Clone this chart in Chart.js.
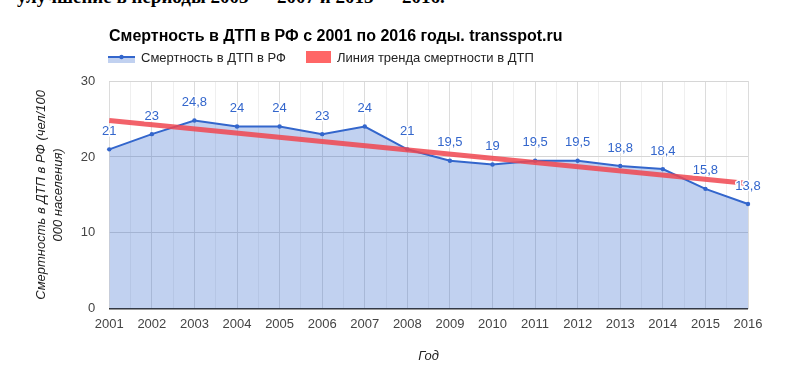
<!DOCTYPE html>
<html>
<head>
<meta charset="utf-8">
<script src="https://cdn.jsdelivr.net/npm/chart.js@4.4.1/dist/chart.umd.min.js"></script>
<style>
  body { margin: 0; background: #fff; overflow: hidden; }
  #wrap { position: relative; width: 802px; height: 371px; }
  #above { position: absolute; left: 17px; top: -12px; font: bold 19px/18px "Liberation Serif", serif; color: #000; white-space: nowrap; }
  canvas { position: absolute; left: 0; top: 0; }
</style>
</head>
<body>
<div id="wrap">
  <div id="above">улучшение в периоды 2003 — 2007 и 2013 — 2016.</div>
  <canvas id="myChart" width="802" height="371"></canvas>
</div>
<script>
const chartTitle = 'Смертность в ДТП в РФ с 2001 по 2016 годы. transspot.ru'
const years = ['2001', '2002', '2003', '2004', '2005', '2006', '2007', '2008', '2009', '2010', '2011', '2012', '2013', '2014', '2015', '2016']
const mortality = [21, 23, 24.8, 24, 24, 23, 24, 21, 19.5, 19, 19.5, 19.5, 18.8, 18.4, 15.8, 13.8]
// trend line: only the two ends, the line spans the gap
const trend = [24.8, null, null, null, null, null, null, null, null, null, null, null, null, null, null, 16.5]
const yTicks = [0, 10, 20, 30]

const font = '"Liberation Sans", Arial, sans-serif'

// title + legend drawn by hand, Google Charts style
const headerPlugin = {
  id: 'header',
  afterDraw(chart) {
    const ctx = chart.ctx
    ctx.save()
    ctx.textBaseline = 'alphabetic'
    ctx.fillStyle = '#000'
    ctx.font = 'bold 16px ' + font
    ctx.fillText(chartTitle, 109, 41)

    // legend item 1: line with area
    ctx.fillStyle = 'rgba(51,102,204,0.3)'
    ctx.fillRect(108, 57, 27, 6)
    ctx.strokeStyle = '#3366cc'
    ctx.lineWidth = 2
    ctx.beginPath(); ctx.moveTo(108, 57); ctx.lineTo(135, 57); ctx.stroke()
    ctx.fillStyle = '#3366cc'
    ctx.beginPath(); ctx.arc(121.5, 57, 2.2, 0, Math.PI * 2); ctx.fill()
    ctx.fillStyle = '#222'
    ctx.font = '13px ' + font
    ctx.fillText(chart.data.datasets[0].label, 141, 62)

    // legend item 2: box
    ctx.fillStyle = '#ff6666'
    ctx.fillRect(306, 51, 25, 12)
    ctx.fillStyle = '#222'
    ctx.fillText(chart.data.datasets[1].label, 337, 62)
    ctx.restore()
  }
}

// value labels above points
const valueLabels = {
  id: 'valueLabels',
  afterDatasetsDraw(chart) {
    const ctx = chart.ctx
    const meta = chart.getDatasetMeta(0)
    ctx.save()
    ctx.font = '13px ' + font
    ctx.textAlign = 'center'
    ctx.textBaseline = 'middle'
    ctx.lineJoin = 'round'
    meta.data.forEach((pt, i) => {
      const txt = String(mortality[i]).replace('.', ',')
      ctx.strokeStyle = '#fff'
      ctx.lineWidth = 3
      ctx.strokeText(txt, pt.x, pt.y - 18)
      ctx.fillStyle = '#3366cc'
      ctx.fillText(txt, pt.x, pt.y - 18)
    })
    ctx.restore()
  }
}

var chart = new Chart(document.getElementById('myChart'), {
  type: 'line',
  data: {
    labels: years,
    datasets: [
      {
        label: 'Смертность в ДТП в РФ',
        data: mortality,
        borderColor: '#3366cc',
        backgroundColor: 'rgba(51,102,204,0.3)',
        borderWidth: 2,
        pointRadius: 2.2,
        pointBackgroundColor: '#3366cc',
        pointBorderWidth: 0,
        fill: 'origin',
        tension: 0,
        order: 1
      },
      {
        label: 'Линия тренда смертности в ДТП',
        data: trend,
        borderColor: 'rgba(240,70,80,0.85)',
        borderWidth: 5,
        pointRadius: 0,
        spanGaps: true,
        fill: false,
        order: 0
      }
    ]
  },
  options: {
    responsive: false,
    animation: false,
    layout: { padding: { left: 33, right: 54, top: 81, bottom: 3 } },
    plugins: {
      legend: { display: false },
      title: { display: false },
      tooltip: { enabled: false }
    },
    scales: {
      x: {
        offset: false,
        grid: { display: false, drawTicks: false },
        border: { display: false },
        ticks: { color: '#444', font: { family: font, size: 13 }, maxRotation: 0, autoSkip: false, padding: 8 },
        title: { display: true, text: 'Год', color: '#222', font: { family: font, size: 13, style: 'italic' }, padding: { top: 8 } }
      },
      xg: {
        type: 'linear',
        position: 'bottom',
        min: 0,
        max: years.length - 1,
        ticks: { display: false, stepSize: 0.5 },
        grid: {
          drawTicks: false,
          color: c => (c.tick && Number.isInteger(c.tick.value)) ? '#dcdcdc' : '#efefef'
        },
        border: { display: false }
      },
      y: {
        min: 0,
        max: 30,
        afterBuildTicks: s => { s.ticks = yTicks.map(v => ({ value: v })) },
        grid: {
          drawTicks: false,
          color: c => c.tick && c.tick.value === 0 ? '#333333' : '#d6d6d6',
          lineWidth: c => c.tick && c.tick.value === 0 ? 1.5 : 1
        },
        border: { display: false },
        ticks: { color: '#444', font: { family: font, size: 13 }, padding: 14 },
        title: {
          display: true,
          text: ['Смертность в ДТП в РФ (чел/100', '000 населения)'],
          color: '#222',
          font: { family: font, size: 13, style: 'italic', lineHeight: 1.3 },
          padding: { top: 0, bottom: 0 }
        }
      }
    }
  },
  plugins: [headerPlugin, valueLabels]
})
</script>
</body>
</html>
